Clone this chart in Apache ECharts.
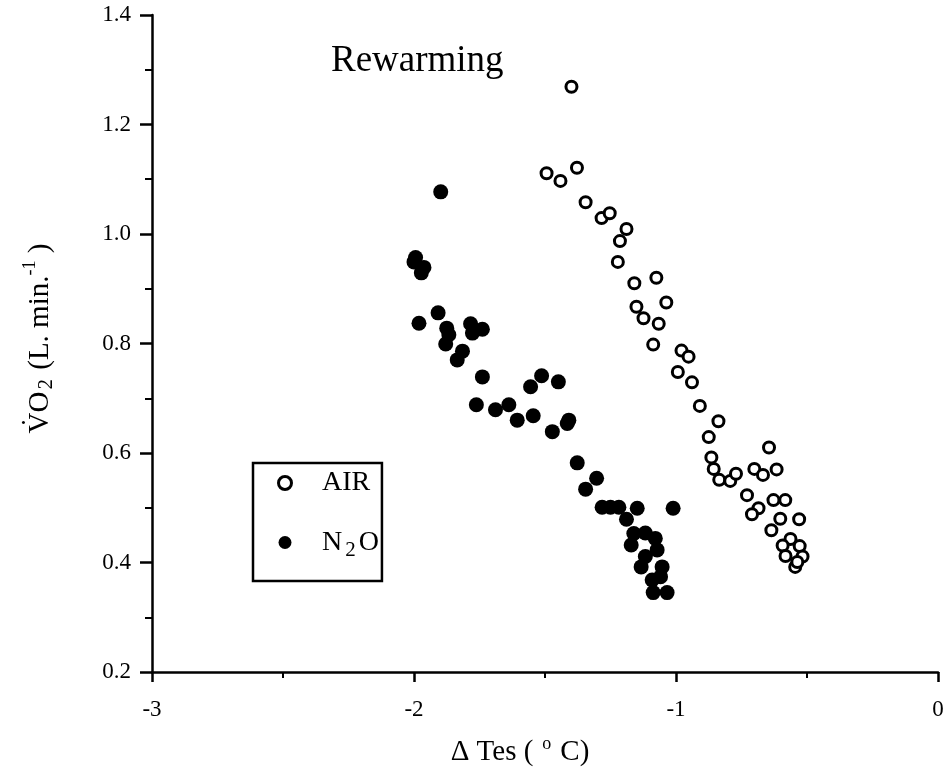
<!DOCTYPE html>
<html>
<head>
<meta charset="utf-8">
<script src="https://cdn.jsdelivr.net/npm/echarts@6.0.0/dist/echarts.min.js"></script>
<style>
html,body{margin:0;padding:0;background:#fff;}
#chart{width:951px;height:781px;}
</style>
</head>
<body>
<div id="chart"></div>
<script>
const titleText = 'Rewarming';
const xTicks = [-3, -2, -1, 0];
const yTicks = [0.2, 0.4, 0.6, 0.8, 1.0, 1.2, 1.4];

const airX = [-1.399,-1.494,-1.441,-1.378,-1.345,-1.284,-1.253,-1.189,-1.214,-1.222,-1.159,-1.075,-1.037,-1.151,-1.124,-1.066,-1.087,-0.979,-0.952,-0.993,-0.939,-0.909,-0.838,-0.875,-0.865,-0.856,-0.835,-0.793,-0.771,-0.645,-0.701,-0.668,-0.616,-0.729,-0.685,-0.710,-0.628,-0.583,-0.602,-0.530,-0.636,-0.563,-0.593,-0.528,-0.582,-0.517,-0.545,-0.537];
const airY = [1.269,1.111,1.097,1.121,1.058,1.029,1.038,1.009,0.987,0.949,0.910,0.920,0.875,0.867,0.846,0.836,0.798,0.787,0.776,0.748,0.729,0.686,0.658,0.629,0.592,0.571,0.551,0.549,0.562,0.610,0.571,0.560,0.570,0.523,0.499,0.488,0.514,0.514,0.480,0.479,0.459,0.443,0.431,0.430,0.412,0.411,0.392,0.401];

const n2oX = [-1.898,-1.994,-2.000,-1.962,-1.972,-1.981,-1.908,-1.875,-1.867,-1.879,-1.815,-1.835,-1.784,-1.777,-1.739,-1.739,-1.762,-1.689,-1.638,-1.606,-1.545,-1.555,-1.513,-1.449,-1.472,-1.415,-1.409,-1.377,-1.303,-1.345,-1.282,-1.250,-1.218,-1.148,-1.189,-1.011,-1.161,-1.117,-1.079,-1.171,-1.072,-1.117,-1.053,-1.133,-1.091,-1.059,-1.087,-1.034];
const n2oY = [1.077,0.957,0.949,0.939,0.929,0.837,0.856,0.828,0.816,0.799,0.786,0.770,0.836,0.819,0.826,0.739,0.688,0.679,0.688,0.660,0.668,0.721,0.741,0.730,0.639,0.654,0.660,0.582,0.554,0.534,0.501,0.501,0.501,0.499,0.479,0.499,0.453,0.454,0.444,0.432,0.423,0.411,0.392,0.392,0.368,0.374,0.345,0.345];

const seriesNames = ['AIR', 'N2O'];

const serif = 'Liberation Serif';
const chart = echarts.init(document.getElementById('chart'));
const zip = (xs, ys) => xs.map((x, i) => [x, ys[i]]);

chart.setOption({
  animation: false,
  backgroundColor: '#fff',
  title: {
    text: titleText,
    left: 326, top: 38,
    textStyle: {fontFamily: serif, fontSize: 37, fontWeight: 'normal', color: '#000'}
  },
  grid: {left: 152, right: 13, top: 15, bottom: 109},
  xAxis: {
    type: 'value', min: xTicks[0], max: xTicks[xTicks.length - 1], interval: 1,
    axisLine: {onZero: false, lineStyle: {color: '#000', width: 2.5}},
    axisTick: {show: true, length: 10, lineStyle: {color: '#000', width: 2.5}},
    minorTick: {show: true, splitNumber: 2, length: 6, lineStyle: {color: '#000', width: 2}},
    splitLine: {show: false},
    axisLabel: {color: '#000', fontFamily: serif, fontSize: 23, margin: 26},
    name: '{t|Δ Tes (}{sup|o}{t|C)}',
    nameLocation: 'middle', nameGap: 64,
    nameTextStyle: {
      padding: [0, 50, 0, 0],
      rich: {
        t: {fontFamily: serif, fontSize: 29, color: '#000', lineHeight: 32},
        sup: {fontFamily: serif, fontSize: 18, color: '#000', lineHeight: 32, padding: [0, 9, 16, 9]}
      }
    }
  },
  yAxis: {
    type: 'value', min: yTicks[0], max: yTicks[yTicks.length - 1], interval: 0.2,
    axisLine: {onZero: false, lineStyle: {color: '#000', width: 2.5}},
    axisTick: {show: true, length: 12, lineStyle: {color: '#000', width: 2.5}},
    minorTick: {show: true, splitNumber: 2, length: 7, lineStyle: {color: '#000', width: 2}},
    splitLine: {show: false},
    axisLabel: {color: '#000', fontFamily: serif, fontSize: 23, margin: 21,
      formatter: v => v.toFixed(1)},
    name: '{t|V\u0307O}{sub|2}{t| (L. min.}{sup|-1}{t| )}',
    nameLocation: 'middle', nameRotate: 90, nameGap: 95,
    nameTextStyle: {
      padding: [0, 0, 0, 10],
      rich: {
        t: {fontFamily: serif, fontSize: 29, color: '#000', lineHeight: 34},
        sub: {fontFamily: serif, fontSize: 21, color: '#000', lineHeight: 34, padding: [12, 2, 0, 2]},
        sup: {fontFamily: serif, fontSize: 18, color: '#000', lineHeight: 34, padding: [0, 0, 20, 0]}
      }
    }
  },
  legend: {
    orient: 'vertical', left: 253, top: 463,
    borderColor: '#000', borderWidth: 2.5,
    padding: [6, 3, 20, 24],
    itemWidth: 40, itemHeight: 13, itemGap: 27,
    data: [
      {name: seriesNames[0], icon: 'circle', itemStyle: {color: '#fff', borderColor: '#000', borderWidth: 3}},
      {name: seriesNames[1], icon: 'circle', itemStyle: {color: '#000', borderWidth: 0}}
    ],
    formatter: name => name === 'N2O' ? '{t|N}{sub|2}{o|O}' : '{t|' + name + '}',
    textStyle: {
      color: '#000',
      padding: [0, 0, 0, 12],
      rich: {
        t: {fontFamily: serif, fontSize: 28, color: '#000', lineHeight: 30},
        o: {fontFamily: serif, fontSize: 28, color: '#000', lineHeight: 30},
        sub: {fontFamily: serif, fontSize: 21, color: '#000', lineHeight: 30, padding: [16, 3, 0, 3]}
      }
    }
  },
  series: [
    {
      name: seriesNames[0], type: 'scatter', data: zip(airX, airY),
      symbol: 'circle', symbolSize: 11,
      itemStyle: {color: '#fff', borderColor: '#000', borderWidth: 3, opacity: 1}
    },
    {
      name: seriesNames[1], type: 'scatter', data: zip(n2oX, n2oY),
      symbol: 'circle', symbolSize: 15,
      itemStyle: {color: '#000', opacity: 1}
    }
  ]
});
</script>
</body>
</html>
